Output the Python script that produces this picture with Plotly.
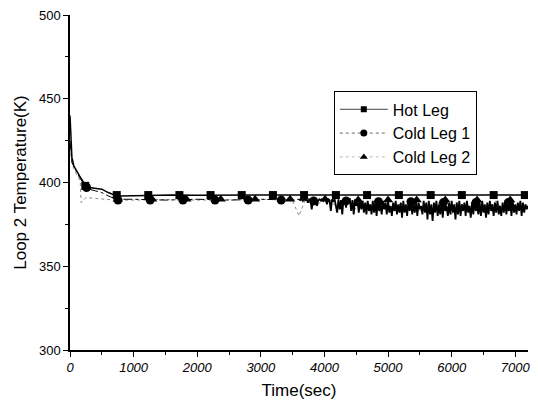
import plotly.graph_objects as go

# ---------------- data ----------------
hot_time = [0, 30, 60, 100, 150, 200, 250, 300, 400, 500, 600, 700, 800,
            1200, 1600, 2000, 2400, 2800, 3200, 3600, 4000, 4400, 4800,
            5200, 5600, 6000, 6400, 6800, 7200]
hot_temp = [440, 415, 410, 407, 404, 401, 398, 397, 396.5, 396, 394, 392.5, 392,
            392.3, 392.5, 392.4, 392.5, 392.3, 392.5, 392.4, 392.5, 392.6, 392.5,
            392.4, 392.5, 392.6, 392.5, 392.5, 392.5]

cold1_time_early = [0, 30, 80, 150, 220, 300, 400, 500, 600, 700, 800,
                    1000, 1500, 2000, 2500, 3000, 3500, 3600]
cold1_temp_early = [425, 412, 408, 403, 399, 396, 395, 394, 392, 390.5, 390,
                    390, 389.5, 390, 389.5, 390, 389.5, 390]
cold1_time_late = list(range(3600, 7201, 20))
cold1_temp_late = [
    390, 389.5, 390, 389, 390, 389.5, 390, 388, 390, 389.5,
    384, 390, 389.5, 390, 386, 389, 390, 389.5, 390, 389,
    390, 389.5, 387, 390, 389.5, 383, 390, 389, 390, 386,
    382, 390, 384, 389.5, 381, 390, 389, 385, 390, 389.5,
    390, 383, 389.5, 381, 390, 386, 389, 382, 390, 384,
    389, 382, 388, 381, 389, 383, 387, 381, 389, 382,
    388, 380, 389, 383, 387, 381, 389, 384, 388, 381,
    389, 382, 386, 380, 388, 383, 389, 381, 387, 382,
    388, 379, 389, 382, 387, 380, 389, 383, 388, 381,
    387, 382, 389, 380, 388, 384, 386, 381, 389, 382,
    388, 378, 389, 381, 387, 377, 388, 382, 389, 380,
    387, 381, 388, 379, 389, 383, 386, 380, 388, 381,
    389, 382, 387, 378, 388, 381, 389, 380, 387, 383,
    388, 380, 389, 382, 386, 379, 388, 381, 389, 383,
    387, 381, 388, 380, 389, 382, 387, 379, 388, 381,
    389, 383, 387, 380, 388, 382, 389, 381, 386, 380,
    388, 382, 389, 381, 387, 383, 388, 380, 389, 382,
    387, 381, 388, 383, 389, 380, 388, 382, 387, 384,
    386,
]

cold2_time_early = [0, 40, 100, 160, 175, 250, 400, 700, 1000, 1500, 2000,
                    2500, 3000, 3300]
cold2_temp_early = [420, 410, 405, 401, 388, 391, 390.5, 389.5, 389.5, 389.8,
                    389.5, 389.7, 389.5, 389.6]
cold2_time_late = list(range(3400, 7201, 100))
cold2_temp_late = [390, 389, 380, 390, 389.5, 387, 390, 389, 385, 390,
                   388, 384, 389, 386, 383, 389, 385, 382, 388, 384,
                   389, 383, 387, 382, 388, 385, 381, 389, 384, 388,
                   382, 387, 385, 389, 383, 388, 384, 387, 386]

hot_marker_time = [240, 735, 1230, 1720, 2210, 2700, 3190, 3680, 4180,
                   4670, 5170, 5670, 6160, 6660, 7150]
hot_marker_temp = [398, 392.5, 392.5, 392.5, 392.5, 392.5, 392.5, 392.5,
                   392.5, 392.5, 392.5, 392.5, 392.5, 392.5, 392.5]

cold1_marker_time = [260, 755, 1260, 1775, 2280, 2800, 3320, 3830, 4340,
                     4850, 5360, 5870, 6380, 6890]
cold1_marker_temp = [397, 389.5, 389.5, 389.5, 389.5, 389.5, 389.5, 389,
                     389, 388.5, 388.5, 388, 388, 388]

cold2_marker_time = [750, 1290, 1830, 2370, 2910, 3460, 4010, 4530, 5000,
                     5450, 5900, 6400, 6920]
cold2_marker_temp = [390, 390, 390, 390, 390, 390, 390, 389.5, 389.5,
                     389.5, 389.5, 389.5, 389.5]

series_names = ["Hot Leg", "Cold Leg 1", "Cold Leg 2"]
x_tick_values = [0, 1000, 2000, 3000, 4000, 5000, 6000, 7000]
y_tick_values = [300, 350, 400, 450, 500]

# ---------------- figure ----------------
BLACK = "#000000"
GREY = "#8a8a8a"
FONT = "Liberation Sans, Arial, sans-serif"

cold2_time = cold2_time_early + cold2_time_late
cold2_temp = cold2_temp_early + cold2_temp_late

fig = go.Figure()

# lines
fig.add_trace(go.Scatter(x=cold2_time, y=cold2_temp, mode="lines",
                         line=dict(color=GREY, width=1, dash="dot"),
                         showlegend=False, hoverinfo="skip"))
fig.add_trace(go.Scatter(x=cold1_time_early, y=cold1_temp_early, mode="lines",
                         line=dict(color=BLACK, width=1, dash="dashdot"),
                         showlegend=False, hoverinfo="skip"))
fig.add_trace(go.Scatter(x=cold1_time_late, y=cold1_temp_late, mode="lines",
                         line=dict(color=BLACK, width=1.8),
                         showlegend=False, hoverinfo="skip"))
fig.add_trace(go.Scatter(x=hot_time, y=hot_temp, mode="lines",
                         line=dict(color=BLACK, width=1.5),
                         showlegend=False, hoverinfo="skip"))

# markers
fig.add_trace(go.Scatter(x=cold2_marker_time, y=cold2_marker_temp, mode="markers",
                         marker=dict(symbol="triangle-up", size=9, color=BLACK),
                         showlegend=False))
fig.add_trace(go.Scatter(x=cold1_marker_time, y=cold1_marker_temp, mode="markers",
                         marker=dict(symbol="circle", size=9, color=BLACK),
                         showlegend=False))
fig.add_trace(go.Scatter(x=hot_marker_time, y=hot_marker_temp, mode="markers",
                         marker=dict(symbol="square", size=8, color=BLACK),
                         showlegend=False))

# legend entries
fig.add_trace(go.Scatter(x=[None], y=[None], mode="lines+markers", name=series_names[0],
                         line=dict(color="#444444", width=1),
                         marker=dict(symbol="square", size=6, color=BLACK)))
fig.add_trace(go.Scatter(x=[None], y=[None], mode="lines+markers", name=series_names[1],
                         line=dict(color="#666666", width=1, dash="dot"),
                         marker=dict(symbol="circle", size=7, color=BLACK)))
fig.add_trace(go.Scatter(x=[None], y=[None], mode="lines+markers", name=series_names[2],
                         line=dict(color="#bbbbbb", width=1, dash="dot"),
                         marker=dict(symbol="triangle-up", size=7, color=BLACK)))

fig.update_layout(
    width=538, height=401,
    margin=dict(l=70, r=10, t=15, b=51),
    paper_bgcolor="white", plot_bgcolor="white",
    font=dict(family=FONT, color=BLACK, size=13),
    legend=dict(x=0.576, y=0.772, xanchor="left", yanchor="top",
                bordercolor=BLACK, borderwidth=1, bgcolor="white",
                font=dict(size=16, family=FONT), tracegroupgap=0,
                itemwidth=48),
)
fig.update_xaxes(
    range=[0, 7200], showgrid=False, zeroline=False, automargin=False,
    showline=True, linecolor=BLACK, linewidth=1.5,
    ticks="outside", ticklen=5, tickwidth=1, tickcolor=BLACK,
    tickvals=x_tick_values,
    tickfont=dict(size=13, style="italic", family=FONT),
    minor=dict(ticks="outside", ticklen=3, dtick=500, tickcolor=BLACK, showgrid=False),
    title=dict(text="Time(sec)", font=dict(size=17, family=FONT), standoff=10),
)
fig.update_yaxes(
    range=[300, 500], showgrid=False, zeroline=False, automargin=False,
    showline=True, linecolor=BLACK, linewidth=1.5,
    ticks="outside", ticklen=5, tickwidth=1, tickcolor=BLACK,
    tickvals=y_tick_values,
    tickfont=dict(size=13, family=FONT),
    minor=dict(ticks="outside", ticklen=3, dtick=25, tickcolor=BLACK, showgrid=False),
    title=dict(text="Loop 2 Temperature(K)", font=dict(size=17, family=FONT), standoff=8),
)

# remove the default 8 px page margin so the figure sits at the window origin
fig.write_html("out.html", config={"displayModeBar": False},
               post_script="document.body.style.margin='0px';")
